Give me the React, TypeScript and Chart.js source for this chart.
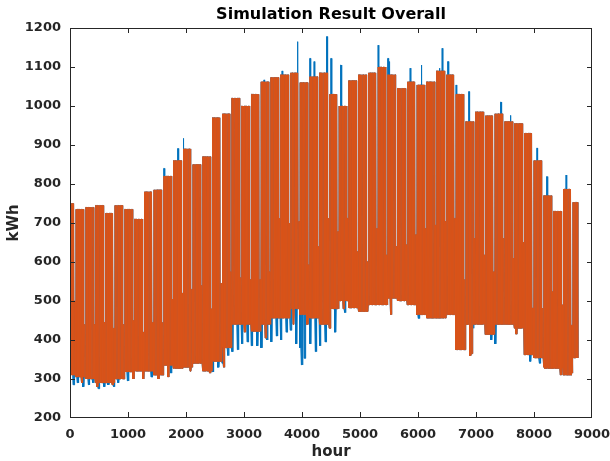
import React, { useEffect, useRef } from "react";
import { Chart, registerables } from "chart.js";

Chart.register(...registerables);

const TITLE = "Simulation Result Overall";
const X_LABEL = "hour";
const Y_LABEL = "kWh";

const X_TICKS = [0, 1000, 2000, 3000, 4000, 5000, 6000, 7000, 8000, 9000];
const Y_TICKS = [200, 300, 400, 500, 600, 700, 800, 900, 1000, 1100, 1200];

const DAYS = 365;
const SUNDAY_INDEX = 3; // day-of-week index (within each 7-day block) of the low weekend day

// weekly values (week 0 .. week 52)
const orangePeak = [
  750, 735, 740, 745, 725, 745, 735, 710, 780, 785, 820, 860, 890, 850, 870, 970, 980, 1020,
  1000, 1030, 1062, 1073, 1080, 1085, 1060, 1075, 1085, 1030, 1000, 1065, 1080, 1085, 1100, 1080, 1045, 1062,
  1054, 1062, 1090, 1080, 1030, 960, 985, 975, 980, 960, 955, 930, 860, 770, 730, 787, 753,
];
const orangeLow = [
  310, 305, 300, 290, 290, 300, 318, 320, 320, 310, 335, 327, 330, 340, 320, 345, 380, 440,
  440, 422, 440, 456, 456, 480, 465, 456, 440, 480, 500, 482, 473, 490, 490, 507, 500, 490,
  465, 456, 456, 465, 375, 440, 440, 414, 440, 440, 430, 362, 354, 327, 327, 310, 354,
];
const sundayPeak = [
  500, 440, 440, 445, 430, 440, 450, 420, 445, 445, 505, 520, 530, 540, 480, 545, 575, 560,
  555, 555, 575, 712, 700, 704, 593, 640, 712, 678, 712, 627, 601, 686, 618, 640, 644, 670,
  686, 695, 704, 712, 555, 661, 618, 575, 661, 610, 650, 482, 482, 524, 490, 438, 438,
];
// single days where the orange series dips below its weekly low
const orangeDipDays = [8, 19, 30, 45, 52, 63, 70, 86, 100, 110, 125, 140, 160, 170, 186, 196, 230, 287, 288, 320, 340, 352, 360];
const orangeDipValues = [290, 280, 285, 300, 300, 300, 305, 320, 315, 330, 420, 405, 440, 440, 430, 480, 465, 360, 365, 415, 330, 310, 315];
// single days where the blue series peaks above the orange one
const blueTopDays = [67, 77, 81, 139, 152, 163, 172, 175, 184, 187, 194, 221, 228, 229, 244, 252, 265, 267, 271, 277, 286, 309, 316, 335, 342, 356];
const blueTopValues = [840, 891, 917, 1067, 1090, 1165, 1122, 1114, 1178, 1122, 1105, 1156, 1122, 1114, 1097, 1105, 1097, 1148, 1114, 1054, 1037, 1010, 976, 892, 819, 823];
// single days where the blue series dips below the orange one
const blueDipDays = [
  2, 5, 9, 13, 16, 20, 24, 27, 31, 34, 38, 41, 58, 72, 95, 99, 102, 106, 109, 113, 116, 120, 123, 127,
  130, 134, 137, 141, 144, 148, 151, 155, 158, 162, 165, 166, 168, 172, 176, 179, 183, 190, 197, 250, 289, 302, 305, 330, 337,
];
const blueDipValues = [
  285, 290, 280, 285, 290, 275, 280, 285, 280, 290, 300, 295, 305, 315, 320, 325, 318, 330, 340, 360, 370, 375, 390, 395,
  385, 385, 380, 400, 395, 410, 400, 420, 425, 390, 380, 336, 353, 390, 370, 385, 395, 420, 470, 455, 430, 400, 390, 345, 340,
];

const ORANGE = "#D95319";
const BLUE = "#0072BD";

function buildSeries(
  dipDays: number[],
  dipVals: number[],
  topDays: number[],
  topVals: number[]
) {
  const pts: { x: number; y: number }[] = [];
  for (let d = 0; d < DAYS; d++) {
    // each week block ends with its low Sunday, so level changes fall on the gaps
    const w = Math.floor((d + 6 - SUNDAY_INDEX) / 7);
    let hi = d % 7 === SUNDAY_INDEX ? sundayPeak[w] : orangePeak[w];
    let lo = orangeLow[w];
    const oi = orangeDipDays.indexOf(d);
    if (oi >= 0) lo = orangeDipValues[oi];
    const ti = topDays.indexOf(d);
    if (ti >= 0) hi = topVals[ti];
    const di = dipDays.indexOf(d);
    if (di >= 0) lo = Math.min(lo, dipVals[di]);
    const h = d * 24;
    pts.push({ x: h + 5, y: lo }, { x: h + 9, y: hi }, { x: h + 18, y: hi }, { x: h + 22, y: lo });
  }
  return pts;
}

const FONT = "'DejaVu Sans', sans-serif";
const AXIS_COLOR = "#262626";

const matlabAxes = {
  id: "matlabAxes",
  afterDraw(chart: any) {
    const { ctx, chartArea: a, scales } = chart;
    ctx.save();
    ctx.fillStyle = AXIS_COLOR;
    const L = Math.round(a.left);
    const R = Math.round(a.right) - 1;
    const T = Math.round(a.top);
    const B = Math.round(a.bottom) - 1;
    // box
    ctx.fillRect(L, T, R - L + 1, 1);
    ctx.fillRect(L, B, R - L + 1, 1);
    ctx.fillRect(L, T, 1, B - T + 1);
    ctx.fillRect(R, T, 1, B - T + 1);
    // inward ticks on all four sides
    const tl = 5;
    X_TICKS.forEach((v) => {
      const px = Math.min(R, Math.round(scales.x.getPixelForValue(v)));
      ctx.fillRect(px, B - tl, 1, tl);
      ctx.fillRect(px, T, 1, tl);
    });
    Y_TICKS.forEach((v) => {
      const py = Math.min(B, Math.round(scales.y.getPixelForValue(v)));
      ctx.fillRect(L, py, tl, 1);
      ctx.fillRect(R - tl + 1, py, tl, 1);
    });

    ctx.textAlign = "center";
    ctx.textBaseline = "middle";
    ctx.fillStyle = "#000000";
    ctx.font = `bold 16px ${FONT}`;
    ctx.fillText(TITLE, (a.left + a.right) / 2, 15);
    ctx.fillStyle = AXIS_COLOR;
    ctx.font = `bold 15px ${FONT}`;
    ctx.fillText(X_LABEL, (a.left + a.right) / 2, 452);
    ctx.translate(14, (a.top + a.bottom) / 2);
    ctx.rotate(-Math.PI / 2);
    ctx.fillText(Y_LABEL, 0, 0);
    ctx.restore();
  },
};

export default function App() {
  const ref = useRef<HTMLCanvasElement | null>(null);
  useEffect(() => {
    if (!ref.current) return;
    const orange = buildSeries([], [], [], []);
    const blue = buildSeries(blueDipDays, blueDipValues, blueTopDays, blueTopValues);
    const chart = new Chart(ref.current, {
      type: "line",
      data: {
        datasets: [
          {
            label: "Simulated",
            data: blue,
            borderColor: BLUE,
            borderWidth: 1,
            pointRadius: 0,
            fill: false,
            order: 1,
          },
          {
            label: "Measured",
            data: orange,
            borderColor: ORANGE,
            borderWidth: 1,
            pointRadius: 0,
            fill: false,
            order: 0,
          },
        ],
      },
      plugins: [matlabAxes],
      options: {
        animation: false,
        responsive: false,
        parsing: false,
        normalized: true,
        layout: { padding: { top: 28, right: 18, left: 0, bottom: 0 } },
        plugins: {
          legend: { display: false },
          title: { display: false },
          tooltip: { enabled: false },
        },
        scales: {
          x: {
            type: "linear",
            min: X_TICKS[0],
            max: X_TICKS[X_TICKS.length - 1],
            afterBuildTicks: (s: any) => {
              s.ticks = X_TICKS.map((v) => ({ value: v }));
            },
            afterFit: (s: any) => {
              s.height = 43;
              s.paddingLeft = 0;
              s.paddingRight = 0;
            },
            ticks: {
              color: AXIS_COLOR,
              font: { family: FONT, weight: "bold", size: 13 },
              padding: 9,
              maxRotation: 0,
              autoSkip: false,
              callback: (v: any) => String(v),
            },
            grid: { display: false, drawTicks: false },
            border: { display: false },
          },
          y: {
            type: "linear",
            min: Y_TICKS[0],
            max: Y_TICKS[Y_TICKS.length - 1],
            afterBuildTicks: (s: any) => {
              s.ticks = Y_TICKS.map((v) => ({ value: v }));
            },
            afterFit: (s: any) => {
              s.width = 70;
              s.paddingTop = 0;
              s.paddingBottom = 0;
            },
            ticks: {
              color: AXIS_COLOR,
              font: { family: FONT, weight: "bold", size: 13 },
              padding: 9,
              autoSkip: false,
              callback: (v: any) => String(v),
            },
            grid: { display: false, drawTicks: false },
            border: { display: false },
          },
        },
      },
    });
    return () => chart.destroy();
  }, []);
  return (
    <div style={{ position: "absolute", left: 0, top: 0, width: 610, height: 461, background: "#fff" }}>
      <canvas ref={ref} width={610} height={461} style={{ display: "block" }} />
    </div>
  );
}
